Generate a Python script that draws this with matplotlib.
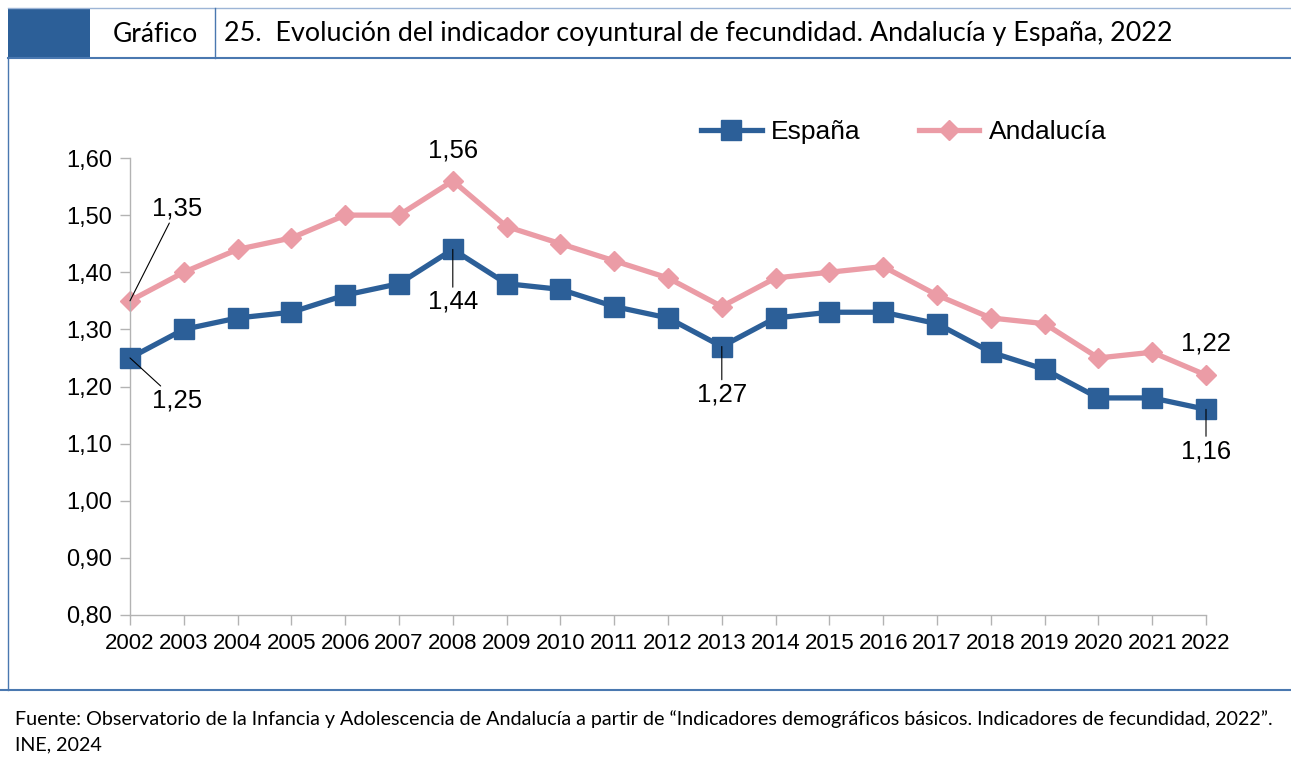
import matplotlib
matplotlib.use("Agg")
import matplotlib.pyplot as plt
from matplotlib.patches import Rectangle
from matplotlib.lines import Line2D
from matplotlib.ticker import FuncFormatter

# Datos
years = list(range(2002, 2023))
espana = [1.25, 1.30, 1.32, 1.33, 1.36, 1.38, 1.44, 1.38, 1.37, 1.34, 1.32,
          1.27, 1.32, 1.33, 1.33, 1.31, 1.26, 1.23, 1.18, 1.18, 1.16]
andalucia = [1.35, 1.40, 1.44, 1.46, 1.50, 1.50, 1.56, 1.48, 1.45, 1.42, 1.39,
             1.34, 1.39, 1.40, 1.41, 1.36, 1.32, 1.31, 1.25, 1.26, 1.22]
yticks = [0.80, 0.90, 1.00, 1.10, 1.20, 1.30, 1.40, 1.50, 1.60]

title = "25.  Evolución del indicador coyuntural de fecundidad. Andalucía y España, 2022"
source = ("Fuente: Observatorio de la Infancia y Adolescencia de Andalucía a partir de "
          "\u201cIndicadores demográficos básicos. Indicadores de fecundidad, 2022\u201d.")
source2 = "INE, 2024"

blue = "#2c5f98"
pink = "#eb9ca6"
frame = "#4a78b0"
W, H = 1291, 760


def fx(px):
    return px / W


def fy(py):
    return 1 - py / H


def fmt(v):
    return f"{v:.2f}".replace(".", ",")


fig = plt.figure(figsize=(W / 100, H / 100), dpi=100)
plt.rcParams['font.family'] = ['Liberation Sans', 'DejaVu Sans']

# Cabecera y marco
fig.add_artist(Rectangle((fx(8), fy(58)), fx(90) - fx(8), fy(8) - fy(58),
                         transform=fig.transFigure, color=blue, lw=0))
fig.add_artist(Line2D([fx(8), 1], [fy(8), fy(8)], transform=fig.transFigure, color="#9db5d6", lw=1))
fig.add_artist(Line2D([fx(8), 1], [fy(58), fy(58)], transform=fig.transFigure, color=frame, lw=1.5))
fig.add_artist(Line2D([fx(215), fx(215)], [fy(8), fy(58)], transform=fig.transFigure, color=frame, lw=1))
fig.add_artist(Line2D([fx(8), fx(8)], [fy(58), fy(690)], transform=fig.transFigure, color=frame, lw=1))
fig.add_artist(Line2D([0, 1], [fy(690), fy(690)], transform=fig.transFigure, color=frame, lw=1.5))

fig.text(fx(113), fy(34), "Gráfico", fontsize=19, family="Lato", va="center", ha="left")
fig.text(fx(224), fy(34), title, fontsize=19.4, family="Lato", va="center", ha="left")
fig.text(fx(15), fy(719), source, fontsize=14.2, family="Lato", va="center", ha="left")
fig.text(fx(15), fy(745), source2, fontsize=14.2, family="Lato", va="center", ha="left")

# Gráfico
ax = fig.add_axes([fx(130), fy(615), fx(1206) - fx(130), fy(158) - fy(615)])
ax.plot(years, espana, color=blue, lw=3.8, marker="s", markersize=14, label="España",
        clip_on=False, zorder=3)
ax.plot(years, andalucia, color=pink, lw=3.8, marker="D", markersize=10, label="Andalucía",
        clip_on=False, zorder=2)

ax.set_xlim(2002, 2022)
ax.set_ylim(0.80, 1.60)
ax.set_xticks(years)
ax.set_yticks(yticks)
ax.yaxis.set_major_formatter(FuncFormatter(lambda v, p: fmt(v)))
for s in ["top", "right"]:
    ax.spines[s].set_visible(False)
for s in ["left", "bottom"]:
    ax.spines[s].set_color("#b3b3b3")
    ax.spines[s].set_linewidth(1)
ax.tick_params(axis="x", colors="#b3b3b3", labelcolor="black", labelsize=16,
               length=7, width=1, pad=6)
ax.tick_params(axis="y", colors="#b3b3b3", labelcolor="black", labelsize=17,
               length=7, width=1, pad=6)

# Etiquetas de datos
fs = 18.5
ann = dict(fontsize=fs, ha="center", va="center",
           arrowprops=dict(arrowstyle="-", color="black", lw=0.8, shrinkA=0, shrinkB=0))
ax.annotate(fmt(andalucia[0]), xy=(2002, andalucia[0]), xytext=(2002.87, 1.512), **ann)
ax.annotate(fmt(espana[0]), xy=(2002, espana[0]), xytext=(2002.87, 1.175), **ann)
ax.annotate(fmt(espana[6]), xy=(2008, espana[6]), xytext=(2008, 1.348), **ann)
ax.annotate(fmt(espana[11]), xy=(2013, espana[11]), xytext=(2013, 1.186), **ann)
ax.annotate(fmt(espana[20]), xy=(2022, espana[20]), xytext=(2022, 1.087), **ann)
ax.text(2008, 1.613, fmt(andalucia[6]), fontsize=fs, ha="center", va="center")
ax.text(2022, 1.275, fmt(andalucia[20]), fontsize=fs, ha="center", va="center")

ax.legend(loc="center left", bbox_to_anchor=((701 - 130) / 1076, (615 - 132) / 457),
          ncol=2, frameon=False, fontsize=19, handlelength=2.3, columnspacing=2.2,
          handletextpad=0.35, borderaxespad=0, borderpad=0,
          bbox_transform=ax.transAxes)

fig.savefig("out.png", dpi=100)
